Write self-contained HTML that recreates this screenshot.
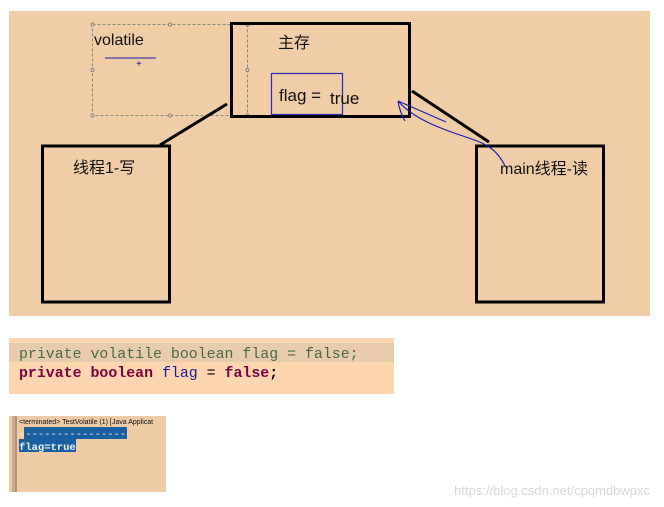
<!DOCTYPE html>
<html><head><meta charset="utf-8"><style>
html,body{margin:0;padding:0;background:#fff;width:664px;height:507px;overflow:hidden}
svg{display:block}
</style></head><body>
<svg width="664" height="507" viewBox="0 0 664 507" xmlns="http://www.w3.org/2000/svg" font-family="Liberation Sans, Noto Sans CJK SC, sans-serif">
<rect x="9" y="11" width="641" height="305" fill="#f0cda7"/>
<rect x="92.5" y="24.5" width="155" height="91" fill="none" stroke="#8a8a7a" stroke-dasharray="3,2" stroke-width="1"/>
<g fill="#f0cda7" stroke="#777" stroke-width="0.8">
<circle cx="92.5" cy="24.5" r="1.6"/><circle cx="170" cy="24.5" r="1.6"/><circle cx="247.5" cy="24.5" r="1.6"/>
<circle cx="92.5" cy="70" r="1.6"/><circle cx="247.5" cy="70" r="1.6"/>
<circle cx="92.5" cy="115.5" r="1.6"/><circle cx="170" cy="115.5" r="1.6"/><circle cx="247.5" cy="115.5" r="1.6"/>
</g>
<text x="94" y="45" font-size="16" fill="#111">volatile</text>
<line x1="105" y1="58" x2="156" y2="58" stroke="#1a1aa0" stroke-width="1"/>
<text x="136" y="67" font-size="10" fill="#1a1aa0">+</text>
<rect x="231.5" y="23.5" width="178" height="93" fill="none" stroke="#000" stroke-width="3"/>
<text x="278" y="48" font-size="16" fill="#111">主存</text>
<rect x="271.5" y="73.5" width="71" height="41" fill="none" stroke="#2a2ab0" stroke-width="1.2"/>
<text x="279" y="101" font-size="17" fill="#111">flag =</text>
<text x="330" y="104" font-size="17" fill="#111">true</text>
<line x1="227" y1="104" x2="160" y2="145" stroke="#000" stroke-width="3"/>
<line x1="412" y1="91" x2="489" y2="142" stroke="#000" stroke-width="3"/>
<rect x="42.5" y="146" width="127" height="156" fill="none" stroke="#000" stroke-width="3"/>
<text x="73" y="173" font-size="16" fill="#111">线程1-写</text>
<rect x="476.5" y="146" width="127" height="156" fill="none" stroke="#000" stroke-width="3"/>
<text x="500" y="174" font-size="16" fill="#111">main线程-读</text>
<g fill="none" stroke="#1a1ab0" stroke-width="1.1">
<path d="M505,166 C495,145 480,142 460,135 C430,125 410,115 398,101"/>
<path d="M398,101 L446,122"/>
<path d="M398,101 C399,108 401,114 405,121"/>
</g>
<rect x="9" y="338" width="385" height="56" fill="#fdd5ae"/>
<rect x="9" y="343" width="385" height="19" fill="#e8cbab"/>
<text x="19" y="358" font-family="Liberation Mono, monospace" font-size="14.9" fill="#4a6a4a">private volatile boolean flag = false;</text>
<text x="19" y="377" font-family="Liberation Mono, monospace" font-size="14.9" font-weight="bold" fill="#7a0040">private boolean <tspan font-weight="normal" fill="#1a1aa0">flag</tspan><tspan font-weight="normal" fill="#000"> = </tspan>false<tspan fill="#000">;</tspan></text>
<rect x="9" y="416" width="157" height="76" fill="#eecba5"/>
<rect x="12" y="416" width="3" height="76" fill="#c8a98c"/>
<rect x="15" y="416" width="2" height="76" fill="#b09080"/>
<text x="19" y="424" font-size="7" fill="#111">&lt;terminated&gt; TestVolatile (1) [Java Applicat</text>
<rect x="24" y="427" width="103" height="12" fill="#1a5fa0"/>
<rect x="19" y="439" width="57" height="13" fill="#1a5fa0"/>
<text x="19" y="437" font-family="Liberation Mono, monospace" font-size="10.5" fill="#f0f0f0">-----------------</text>
<text x="19" y="450" font-family="Liberation Mono, monospace" font-size="10.5" font-weight="bold" fill="#f0f0f0">flag=true</text>
<text x="650" y="495" text-anchor="end" font-size="13" fill="#d8d8d8">https://blog.csdn.net/cpqmdbwpxc</text>
</svg>
</body></html>
